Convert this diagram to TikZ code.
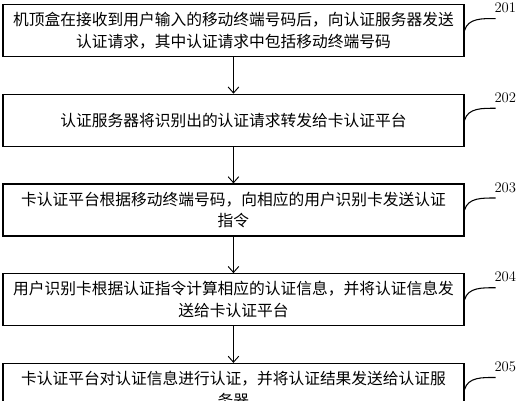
\documentclass[tikz,border=0pt]{standalone}
\usepackage{fontspec}
\newfontfamily\cjk{Noto Sans CJK SC}
\usetikzlibrary{positioning, arrows.meta}

\begin{document}
\begin{tikzpicture}[
  stepbox/.style={draw, line width=0.9pt, minimum width=345.75pt, minimum height=39pt,
                  align=center, inner sep=2pt,
                  font=\cjk\fontsize{11.8pt}{16.3pt}\selectfont},
  arr/.style={-{Straight Barb[length=4.5pt, width=8pt]}, line width=0.7pt},
  lead/.style={line width=0.8pt},
  num/.style={font=\fontsize{11pt}{13pt}\selectfont, inner sep=0pt, anchor=west},
  node distance=27.4pt,
]

\useasboundingbox (0,0) rectangle (390pt,-300pt);

% --- Steps ---
\node[stepbox] (s1) at (175.1pt,-22.9pt)
  {机顶盒在接收到用户输入的移动终端号码后，向认证服务器发送\\认证请求，其中认证请求中包括移动终端号码};
\node[stepbox, below=of s1] (s2) {认证服务器将识别出的认证请求转发给卡认证平台};
\node[stepbox, below=of s2] (s3)
  {卡认证平台根据移动终端号码，向相应的用户识别卡发送认证\\指令};
\node[stepbox, below=of s3] (s4)
  {用户识别卡根据认证指令计算相应的认证信息，并将认证信息发\\送给卡认证平台};
\node[stepbox, below=of s4] (s5)
  {卡认证平台对认证信息进行认证，并将认证结果发送给认证服\\务器};

% --- Arrows ---
\draw[arr] (s1) -- (s2);
\draw[arr] (s2) -- (s3);
\draw[arr] (s3) -- (s4);
\draw[arr] (s4) -- (s5);

% --- Step numbers ---
\coordinate (e1) at ([shift={(23.25pt,9pt)}]s1.east);
\coordinate (e2) at ([shift={(23.25pt,9pt)}]s2.east);
\coordinate (e3) at ([shift={(23.25pt,9pt)}]s3.east);
\coordinate (e4) at ([shift={(23.25pt,9pt)}]s4.east);
\coordinate (e5) at ([shift={(23.25pt,9pt)}]s5.east);

\draw[lead] (s1.east) to[out=75, in=180] (e1);
\draw[lead] (s2.east) to[out=75, in=180] (e2);
\draw[lead] (s3.east) to[out=75, in=180] (e3);
\draw[lead] (s4.east) to[out=75, in=180] (e4);
\draw[lead] (s5.east) to[out=75, in=180] (e5);

\node[num] (n1) at ([shift={(-1pt,8pt)}]e1) {201};
\node[num] (n2) at ([shift={(-1pt,8pt)}]e2) {202};
\node[num] (n3) at ([shift={(-1pt,8pt)}]e3) {203};
\node[num] (n4) at ([shift={(-1pt,8pt)}]e4) {204};
\node[num] (n5) at ([shift={(-1pt,8pt)}]e5) {205};

\end{tikzpicture}
\end{document}
